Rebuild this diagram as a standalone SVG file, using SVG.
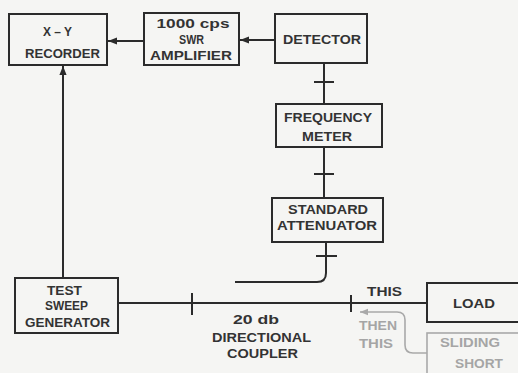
<svg xmlns="http://www.w3.org/2000/svg" width="518" height="373" viewBox="0 0 518 373">
<defs>
<style>
.bx{fill:none;stroke:#2b2b2b;stroke-width:2}
.gbx{fill:none;stroke:#a9a9a9;stroke-width:1.6}
.ln{fill:none;stroke:#2b2b2b;stroke-width:2}
.gln{fill:none;stroke:#a9a9a9;stroke-width:1.6}
text{font-family:"Liberation Sans","DejaVu Sans",Arial,sans-serif;font-weight:bold;font-size:13.5px;fill:#333;text-anchor:middle}
.g{fill:#a5a5a5}
</style>
<marker id="ah" viewBox="0 0 10 10" refX="10" refY="5" markerWidth="4.5" markerHeight="4.5" orient="auto" markerUnits="strokeWidth"><path d="M0,1 L10,5 L0,9 Z" fill="#2b2b2b"/></marker>
<marker id="gah" viewBox="0 0 10 10" refX="10" refY="5" markerWidth="5" markerHeight="5" orient="auto" markerUnits="strokeWidth"><path d="M0,1 L10,5 L0,9 Z" fill="#a9a9a9"/></marker>
</defs>
<rect width="518" height="373" fill="#f5f5f3"/>
<g id="connectors">
<line class="ln" x1="144" y1="41" x2="108" y2="41" marker-end="url(#ah)"/>
<line class="ln" x1="275" y1="40" x2="240" y2="40" marker-end="url(#ah)"/>
<line class="ln" x1="63" y1="278" x2="63" y2="66" marker-end="url(#ah)"/>
<line class="ln" x1="324" y1="63" x2="324" y2="104"/>
<line class="ln" x1="314" y1="82" x2="334" y2="82"/>
<line class="ln" x1="324" y1="147" x2="324" y2="198"/>
<line class="ln" x1="314" y1="174" x2="334" y2="174"/>
<path class="ln" d="M326,242 V273 Q326,282 317,282 H235"/>
<line class="ln" x1="316" y1="256" x2="337" y2="256"/>
<line class="ln" x1="118" y1="303" x2="427" y2="303"/>
<line class="ln" x1="192" y1="293" x2="192" y2="315"/>
<line class="ln" x1="351" y1="295" x2="351" y2="312"/>
<path class="gln" d="M427,353 H413 Q405,353 405,345 V320 Q405,312 397,312 H360" marker-end="url(#gah)"/>
</g>
<g id="recorder">
<rect class="bx" x="9" y="14" width="98" height="51"/>
<text x="57.5" y="36" textLength="29" lengthAdjust="spacingAndGlyphs">X – Y</text>
<text x="62.5" y="58" textLength="75" lengthAdjust="spacingAndGlyphs">RECORDER</text>
</g>
<g id="amplifier">
<rect class="bx" x="144" y="13" width="95" height="52"/>
<text x="193" y="28" textLength="73" lengthAdjust="spacingAndGlyphs">1000 cps</text>
<text x="191.5" y="44" textLength="25" lengthAdjust="spacingAndGlyphs">SWR</text>
<text x="191" y="60" textLength="82" lengthAdjust="spacingAndGlyphs">AMPLIFIER</text>
</g>
<g id="detector">
<rect class="bx" x="275" y="14" width="92" height="49"/>
<text x="322" y="44" textLength="78" lengthAdjust="spacingAndGlyphs">DETECTOR</text>
</g>
<g id="frequency-meter">
<rect class="bx" x="276" y="104" width="106" height="43"/>
<text x="328" y="122" textLength="88" lengthAdjust="spacingAndGlyphs">FREQUENCY</text>
<text x="327" y="141" textLength="50" lengthAdjust="spacingAndGlyphs">METER</text>
</g>
<g id="attenuator">
<rect class="bx" x="272" y="198" width="111" height="44"/>
<text x="328" y="214" textLength="80" lengthAdjust="spacingAndGlyphs">STANDARD</text>
<text x="327" y="230" textLength="100" lengthAdjust="spacingAndGlyphs">ATTENUATOR</text>
</g>
<g id="sweep-generator">
<rect class="bx" x="15" y="278" width="103" height="55"/>
<text x="64.5" y="295" textLength="35" lengthAdjust="spacingAndGlyphs">TEST</text>
<text x="66.5" y="310" textLength="43" lengthAdjust="spacingAndGlyphs">SWEEP</text>
<text x="67.5" y="327" textLength="85" lengthAdjust="spacingAndGlyphs">GENERATOR</text>
</g>
<g id="coupler">
<text x="256" y="324" textLength="46" lengthAdjust="spacingAndGlyphs">20 db</text>
<text x="261.5" y="342" textLength="99" lengthAdjust="spacingAndGlyphs">DIRECTIONAL</text>
<text x="262.5" y="358" textLength="71" lengthAdjust="spacingAndGlyphs">COUPLER</text>
</g>
<g id="this-label">
<text x="384.5" y="296" textLength="35" lengthAdjust="spacingAndGlyphs">THIS</text>
</g>
<g id="load">
<rect class="bx" x="427" y="283" width="100" height="39"/>
<text x="474" y="308" textLength="42" lengthAdjust="spacingAndGlyphs">LOAD</text>
</g>
<g id="then-this-label">
<text class="g" x="378" y="330" textLength="38" lengthAdjust="spacingAndGlyphs">THEN</text>
<text class="g" x="376" y="348" textLength="34" lengthAdjust="spacingAndGlyphs">THIS</text>
</g>
<g id="sliding-short">
<rect class="gbx" x="427" y="333" width="100" height="50"/>
<text class="g" x="470" y="347" textLength="60" lengthAdjust="spacingAndGlyphs">SLIDING</text>
<text class="g" x="479" y="368" textLength="48" lengthAdjust="spacingAndGlyphs">SHORT</text>
</g>
</svg>
